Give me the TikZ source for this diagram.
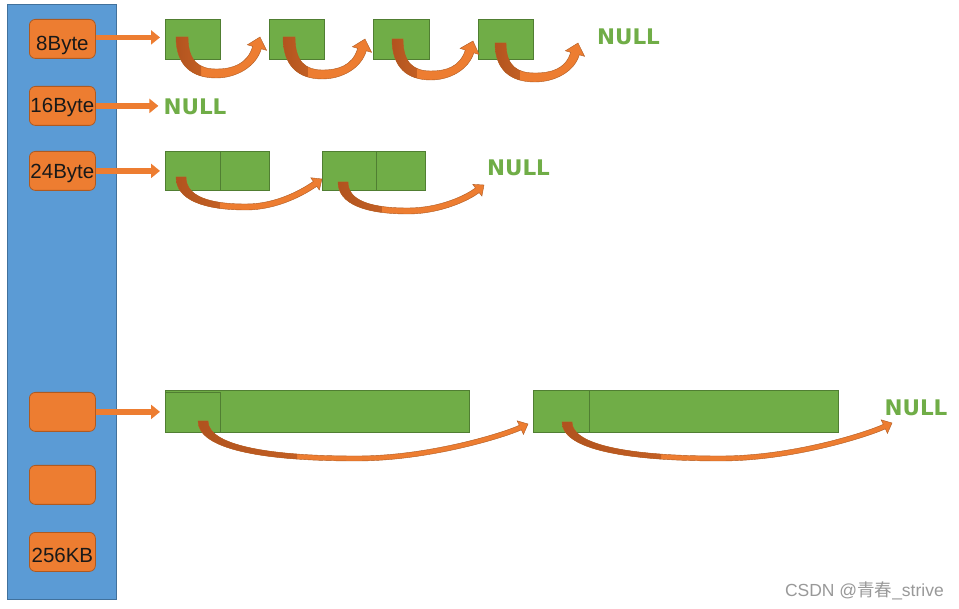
\documentclass[tikz,border=0pt]{standalone}
\usepackage{fontspec}
\setmainfont{Liberation Sans}
\newfontfamily\cjkfont{Noto Sans CJK SC}
\newfontfamily\nulltxtfont{DejaVu Sans}
\usetikzlibrary{arrows.meta}
\definecolor{colblue}{HTML}{5B9BD5}
\definecolor{colblueB}{HTML}{41719C}
\definecolor{org}{HTML}{ED7D31}
\definecolor{orgB}{HTML}{AE5A21}
\definecolor{orgD}{HTML}{B0521E}
\definecolor{grn}{HTML}{70AD47}
\definecolor{grnB}{HTML}{507E32}
% curved ribbon arrow: #1 x0, #2 y0, #3 tip x, #4 tip y, #5 bottom y, #6 head angle,
% #7 tail width, #8 band thickness, #9 head half width
\newcommand\carrow[9]{%
 \pgfmathsetmacro\cCx{#3-(#9+1)*cos(#6)}%
 \pgfmathsetmacro\cCy{#4+(#9+1)*sin(#6)}%
 \pgfmathsetmacro\cnx{sin(#6)}%
 \pgfmathsetmacro\cny{cos(#6)}%
 \pgfmathsetmacro\cNox{\cCx+0.5*#8*\cnx}%
 \pgfmathsetmacro\cNoy{\cCy+0.5*#8*\cny}%
 \pgfmathsetmacro\cNix{\cCx-0.5*#8*\cnx}%
 \pgfmathsetmacro\cNiy{\cCy-0.5*#8*\cny}%
 \pgfmathsetmacro\cHox{\cCx+#9*\cnx}%
 \pgfmathsetmacro\cHoy{\cCy+#9*\cny}%
 \pgfmathsetmacro\cHix{\cCx-#9*\cnx}%
 \pgfmathsetmacro\cHiy{\cCy-#9*\cny}%
 \pgfmathsetmacro\cxm{#1+0.48*(#3-#1)}%
 \pgfmathsetmacro\cm{0.45*(#5-#4)}%
 \pgfmathsetmacro\cbx{-\cm*cos(#6)}%
 \pgfmathsetmacro\cby{\cm*sin(#6)}%
 \pgfmathsetmacro\cxs{#1+0.3*(#3-#1)}%
 \filldraw[fill=org, draw=orgB, line width=0.4pt,
   path picture={\shade[left color=orgD, right color=org] (#1-3,#2-3) rectangle (\cxs,#5+3);}]
 (#1,#2) .. controls (#1,{#2+0.7*(#5-#2)}) and ({#1+0.4*(\cxm-#1)},#5) .. (\cxm,#5)
 .. controls ({\cxm+0.45*(\cNox-\cxm)},#5) and ({\cNox+\cbx},{\cNoy+\cby}) .. (\cNox,\cNoy)
 -- (\cHox,\cHoy) -- (#3,#4) -- (\cHix,\cHiy) -- (\cNix,\cNiy)
 .. controls ({\cNix+\cbx},{\cNiy+\cby}) and ({\cxm+0.45*(\cNix-\cxm)},{#5-#8}) .. (\cxm,{#5-#8})
 .. controls ({#1+#7+0.4*(\cxm-#1-#7)},{#5-#8}) and ({#1+#7},{#2+0.6*(#5-#2)}) .. ({#1+#7},#2) -- cycle;
}
\begin{document}
\begin{tikzpicture}[x=1pt,y=-1pt,
 sizebox/.style={draw=orgB, fill=org, rounded corners=6pt, minimum width=66pt, minimum height=39pt, anchor=north west, inner sep=0pt, line width=0.8pt},
 sizelabel/.style={font=\fontsize{20.5}{20.5}\selectfont, text=black!90, inner sep=0pt},
 gblock/.style={draw=grnB, fill=grn, anchor=north west, inner sep=0pt, line width=0.8pt, minimum height=40pt},
 nulltext/.style={text=grn, font=\nulltxtfont\fontsize{21.5}{21.5}\selectfont\bfseries, inner sep=0pt},
 sarrow/.style={draw=org, line width=5.5pt, -{Triangle[length=9pt,width=14pt]}, shorten >=5pt}
]
\useasboundingbox (0,0) rectangle (959,609);
\fill[white] (0,0) rectangle (959,609);

% blue column
\node[draw=colblueB, fill=colblue, line width=0.8pt, anchor=north west, inner sep=0pt, minimum width=109pt, minimum height=595pt] (col) at (7,4) {};

% size boxes
\node[sizebox] (b8) at (29,19) {};
\node[sizebox] (b16) at (29,86) {};
\node[sizebox] (b24) at (29,151) {};
\node[sizebox] (bx1) at (29,392) {};
\node[sizebox] (bx2) at (29,465) {};
\node[sizebox] (b256) at (29,532) {};
\node[sizelabel, yshift=-6.5pt] (t8) at (b8.center) {8Byte};
\node[sizelabel, yshift=-2pt] (t16) at (b16.center) {16Byte};
\node[sizelabel, yshift=-3pt] (t24) at (b24.center) {24Byte};
\node[sizelabel, yshift=-4pt] (t256) at (b256.center) {256KB};

% row 1 blocks
\node[gblock, minimum width=55pt] (r1a) at (165,19) {};
\node[gblock, minimum width=55pt] (r1b) at (269,19) {};
\node[gblock, minimum width=56pt] (r1c) at (373,19) {};
\node[gblock, minimum width=55pt] (r1d) at (478,19) {};
\node[nulltext] (n1) at (628.5,37) {NULL};

% row 2
\node[nulltext] (n2) at (195,107) {NULL};

% row 3 blocks
\node[gblock, minimum width=55pt, minimum height=39pt] (r3a) at (165,151) {};
\node[gblock, minimum width=49pt, minimum height=39pt] (r3b) at (220,151) {};
\node[gblock, minimum width=54pt, minimum height=39pt] (r3c) at (322,151) {};
\node[gblock, minimum width=49pt, minimum height=39pt] (r3d) at (376,151) {};
\node[nulltext] (n3) at (518.5,168) {NULL};

% bottom row blocks
\node[gblock, minimum width=304pt, minimum height=42pt] (r4a) at (165,390) {};
\node[gblock, minimum width=55pt, minimum height=40pt] (r4a1) at (165,392) {};
\node[gblock, minimum width=305pt, minimum height=42pt] (r4b) at (533,390) {};
\node[gblock, minimum width=56pt, minimum height=42pt] (r4b1) at (533,390) {};
\node[nulltext] (n4) at (916,408) {NULL};

% straight arrows
\draw[sarrow] ([yshift=1.5pt]b8.east) -- ([yshift=1.5pt]b8.east -| r1a.west);
\draw[sarrow] (b16.east) -- (b16.east -| n2.west);
\draw[sarrow] (b24.east) -- (b24.east -| r3a.west);
\draw[sarrow] (bx1.east) -- (bx1.east -| r4a.west);

% curved arrows row 1
\carrow{176}{37}{260}{37}{78}{74}{12}{9}{10}
\carrow{283}{37}{365}{39}{79}{74}{12}{9}{10}
\carrow{392}{39}{473}{41}{80}{72}{11}{9}{10}
\carrow{495}{43}{578}{43}{82}{74}{11}{9}{10}
% row 3
\carrow{176}{177}{322}{179}{210}{35}{10}{6}{7.5}
\carrow{338}{182}{484}{185}{214}{38}{10}{6}{7.5}
% bottom row
\carrow{198}{421}{528}{424}{461}{25}{10}{5}{7.5}
\carrow{562}{422}{892}{423}{461}{25}{10}{5}{7.5}

% watermark
\node[text=black!40, font=\fontsize{17.5}{17.5}\selectfont, anchor=east, inner sep=0pt] (wm) at (944,591) {CSDN @{\cjkfont 青春}\_strive};
\end{tikzpicture}
\end{document}
